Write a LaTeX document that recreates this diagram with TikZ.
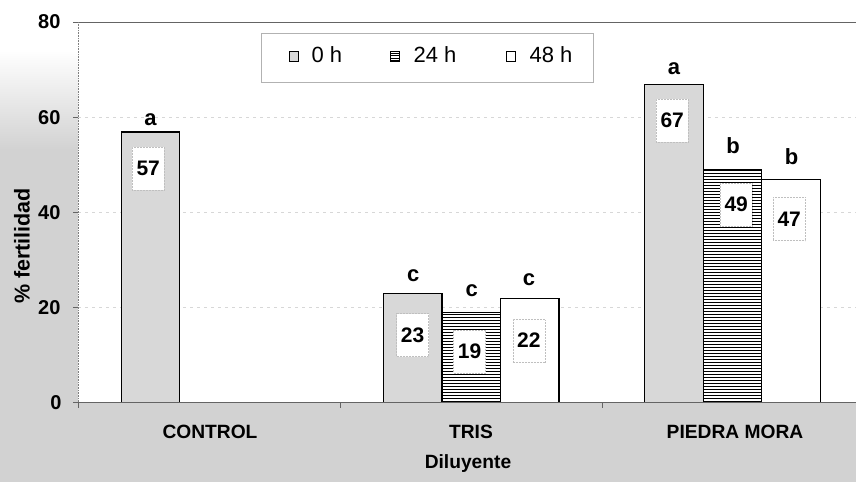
\documentclass[tikz,border=0pt]{standalone}
\usepackage{fontspec}
\setmainfont{Liberation Sans}
\definecolor{bggrey}{RGB}{210,210,210}
\definecolor{stipple}{RGB}{216,216,216}
\definecolor{gridc}{RGB}{215,215,215}
\definecolor{axisc}{RGB}{100,100,100}
\tikzset{
  bar/.style={draw=black, line width=1.3pt},
  val/.style={fill=white, draw=gray!50, densely dotted, line width=0.5pt, minimum width=32pt, minimum height=43pt, inner sep=0pt, font=\fontsize{21}{21}\selectfont\bfseries},
  sig/.style={anchor=base, font=\fontsize{22}{22}\selectfont\bfseries},
  ticklab/.style={anchor=east, font=\fontsize{20}{20}\selectfont\bfseries},
  cat/.style={font=\fontsize{19.2}{19}\selectfont\bfseries},
  leg/.style={anchor=base west, font=\fontsize{22}{22}\selectfont},
  gridline/.style={draw=gridc, line width=0.5pt, dash pattern=on 3pt off 4pt},
  legsq/.style={draw=black, line width=1pt},
}
\newcommand{\linedrect}[4]{%
  \begin{scope}
    \clip (#1,#2) rectangle (#3,#4);
    \fill[white] (#1,#2) rectangle (#3,#4);
    \foreach \yy in {401.5,398.5,...,30} {\draw[black, line width=1.4pt] (#1,\yy) -- (#3,\yy);}
  \end{scope}}
\begin{document}
\begin{tikzpicture}[x=1pt,y=-1pt]
\useasboundingbox (0,0) rectangle (856,482);
% background
\fill[white] (0,0) rectangle (856,482);
\shade[top color=white, bottom color=bggrey] (0,50) rectangle (78,150);
\fill[bggrey] (0,150) rectangle (78,403);
\fill[bggrey] (0,403) rectangle (856,482);
% grid
\foreach \v in {60,40,20} {\draw[gridline] (78,{402.7-4.75*\v}) -- (856,{402.7-4.75*\v});}
% axes
\draw[axisc, line width=1pt] (73,22) -- (856,22);
\draw[gray, line width=0.6pt, densely dotted] (78,22) -- (78,403);
\foreach \v in {60,40,20,0} {\draw[axisc, line width=0.7pt] (73,{402.7-4.75*\v}) -- (78,{402.7-4.75*\v});}
\foreach \xx in {78,340.5,602} {\draw[axisc, line width=0.7pt] (\xx,402.7) -- (\xx,408);}
% tick labels
\node[ticklab] (t80) at (64,22) {80};
\node[ticklab] (t60) at (64,117.7) {60};
\node[ticklab] (t40) at (64,212.7) {40};
\node[ticklab] (t20) at (64,307.7) {20};
\node[ticklab] (t0) at (65,402.7) {0};
% CONTROL
\filldraw[bar, fill=stipple] (121.25,{402.7-4.75*57}) rectangle (179.75,402.7);
% TRIS
\filldraw[bar, fill=stipple] (383.5,{402.7-4.75*23}) rectangle (442,402.7);
\linedrect{442}{312.45}{500.5}{402.7}
\draw[bar] (442,{402.7-4.75*19}) rectangle (500.5,402.7);
\filldraw[bar, fill=white] (500.5,{402.7-4.75*22}) rectangle (559,402.7);
% PIEDRA MORA
\filldraw[bar, fill=stipple] (644.75,{402.7-4.75*67}) rectangle (703.25,402.7);
\linedrect{703.25}{169.95}{761.75}{402.7}
\draw[bar] (703.25,{402.7-4.75*49}) rectangle (761.75,402.7);
\filldraw[bar, fill=white] (761.75,{402.7-4.75*47}) rectangle (820.25,402.7);
% x axis
\draw[axisc, line width=1pt] (73,402.7) -- (856,402.7);
% value boxes
\node[val] (v57) at (148.2,168.7) {57};
\node[val] (v23) at (412.5,335) {23};
\node[val] (v19) at (469.5,351.4) {19};
\node[val] (v22) at (528.8,340.5) {22};
\node[val] (v67) at (672.2,120.5) {67};
\node[val] (v49) at (736.2,204.7) {49};
\node[val] (v47) at (789.2,219) {47};
% significance letters
\node[sig] (sa1) at (150.5,125) {a};
\node[sig] (sc1) at (413.3,281.7) {c};
\node[sig] (sc2) at (471.7,296) {c};
\node[sig] (sc3) at (529,285) {c};
\node[sig] (sa2) at (674,74) {a};
\node[sig] (sb1) at (733,153.3) {b};
\node[sig] (sb2) at (791.7,164) {b};
% categories
\node[cat] (cctl) at (210,431.7) {CONTROL};
\node[cat] (ctris) at (471,431.7) {TRIS};
\node[cat] (cpm) at (735,431.7) {PIEDRA MORA};
\node[cat] (xlab) at (468,464) {Diluyente};
\node[cat, font=\fontsize{21.5}{21}\selectfont\bfseries, rotate=90] (ylab) at (22,246) {\% fertilidad};
% legend
\draw[gray!60, line width=0.7pt] (261,33) rectangle (593,82);
\filldraw[legsq, fill=stipple] (289.3,51.7) rectangle (298.3,61.7);
\node[leg] (l0) at (308,62.3) {0 h};
\begin{scope}
\clip (390,51.7) rectangle (399,61.7);
\foreach \yy in {53.2,55.7,58.2,60.7} {\draw[black, line width=1.1pt] (390,\yy) -- (399,\yy);}
\end{scope}
\draw[legsq] (390,51.7) rectangle (399,61.7);
\node[leg] (l24) at (410,62.3) {24 h};
\filldraw[legsq, fill=white] (506,51.7) rectangle (515,61.7);
\node[leg] (l48) at (526,62.3) {48 h};
\end{tikzpicture}
\end{document}
